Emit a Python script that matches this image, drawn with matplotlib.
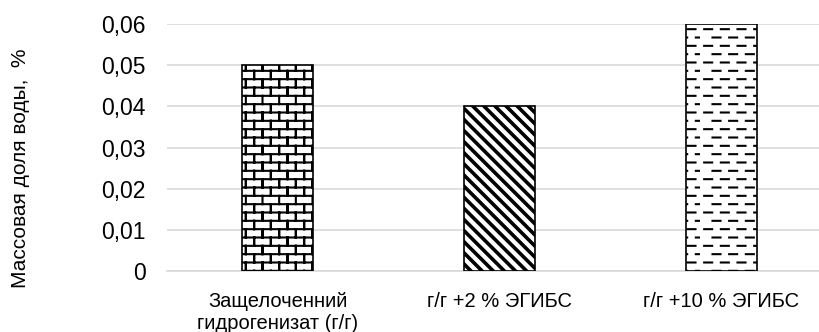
import numpy as np
import matplotlib
matplotlib.use("Agg")
import matplotlib.pyplot as plt
import matplotlib.hatch as mhatch
from matplotlib.path import Path

categories = ["Защелоченний\nгидрогенизат (г/г)", "г/г +2 % ЭГИБС", "г/г +10 % ЭГИБС"]
values = [0.05, 0.04, 0.06]
yticks = [0, 0.01, 0.02, 0.03, 0.04, 0.05, 0.06]
ytick_labels = ["0", "0,01", "0,02", "0,03", "0,04", "0,05", "0,06"]
ylabel = "Массовая доля воды,  %"
hatches = ["+", "\\", "-"]


# ---- custom hatch patterns (Excel-like brick, wide diagonal, dashed) ----
class BrickHatch(mhatch.HatchPatternBase):
    rows, cols = 12, 6

    def __init__(self, hatch, density):
        self.on = '+' in hatch
        self.num_vertices = (2 * self.rows + 2 * self.rows * self.cols * 2) if self.on else 0

    def set_vertices_and_codes(self, vertices, codes):
        r, c = self.rows, self.cols
        verts = []
        for k in range(r):
            y = (k + 0.5) / r
            verts += [(0.0, y), (1.0, y)]
        for k in range(r):
            y0 = (k + 0.5) / r
            y1 = (k + 1.5) / r
            shift = 0.5 / c if k % 2 else 0.0
            for j in range(c):
                x = (j + 0.25) / c + shift
                x = x % 1.0
                if y1 <= 1.0:
                    verts += [(x, y0), (x, y1), (x, y0), (x, y1)]
                else:
                    verts += [(x, y0), (x, 1.0), (x, 0.0), (x, y1 - 1.0)]
        vertices[:] = np.array(verts)
        codes[0::2] = Path.MOVETO
        codes[1::2] = Path.LINETO


class StripeHatch(mhatch.HatchPatternBase):
    n = 9

    def __init__(self, hatch, density):
        self.on = '\\' in hatch
        self.cs = np.arange(-1, 2 * self.n + 2) / self.n
        self.num_vertices = 2 * len(self.cs) if self.on else 0

    def set_vertices_and_codes(self, vertices, codes):
        cs = self.cs
        vertices[0::2, 0] = cs - 2.0
        vertices[0::2, 1] = 2.0
        vertices[1::2, 0] = cs + 1.0
        vertices[1::2, 1] = -1.0
        codes[0::2] = Path.MOVETO
        codes[1::2] = Path.LINETO


class DashHatch(mhatch.HatchPatternBase):
    rows, cols = 12, 6

    def __init__(self, hatch, density):
        self.on = '-' in hatch
        self.num_vertices = 2 * self.rows * self.cols if self.on else 0

    def set_vertices_and_codes(self, vertices, codes):
        r, c = self.rows, self.cols
        verts = []
        for k in range(r):
            y = (k + 0.5) / r
            shift = 0.5 / c if k % 2 else 0.0
            for j in range(c):
                x0 = (j + 0.25) / c + shift
                x1 = x0 + 0.48 / c
                if x0 >= 1.0:
                    x0 -= 1.0
                    x1 -= 1.0
                verts += [(x0, y), (min(x1, 1.0), y)]
        vertices[:] = np.array(verts)
        codes[0::2] = Path.MOVETO
        codes[1::2] = Path.LINETO


mhatch._hatch_types = [BrickHatch, StripeHatch, DashHatch]

hatch_lw = [1.5, 2.6, 1.5]

plt.rcParams['font.family'] = ['Liberation Sans', 'DejaVu Sans']

fig = plt.figure(figsize=(8.2, 3.32), dpi=100)
left = 167 / 820
bottom = 1 - 271 / 332
top = 1 - 24 / 332
ax = fig.add_axes([left, bottom, 1 - left, top - bottom])

x = np.arange(len(categories))
spacing_px = 221.75
ax.set_xlim(-0.5, (820 - 167) / spacing_px - 0.5)
ax.set_ylim(0, 0.06)

for i, (xi, v) in enumerate(zip(x, values)):
    plt.rcParams['hatch.linewidth'] = hatch_lw[i]
    bars = ax.bar(xi, v, width=0.32, color="white", edgecolor="black",
                  linewidth=1.2, hatch=hatches[i], zorder=3)
    for b in bars:
        if hasattr(b, "set_hatch_linewidth"):
            b.set_hatch_linewidth(hatch_lw[i])

ax.set_yticks(yticks)
ax.set_yticklabels(ytick_labels, fontsize=16.5)
ax.set_xticks(x)
ax.set_xticklabels(categories, fontsize=14.5, linespacing=1.2)
ax.tick_params(axis='both', length=0, colors='black')
ax.tick_params(axis='y', pad=15.5)
ax.tick_params(axis='x', pad=15)
ax.grid(axis='y', color='#d9d9d9', linewidth=1.2, zorder=0)
ax.set_axisbelow(True)
for s in ['top', 'right', 'left']:
    ax.spines[s].set_visible(False)
ax.spines['bottom'].set_color('#d9d9d9')
ax.spines['bottom'].set_linewidth(1.2)

fig.text(21 / 820, 1 - 168 / 332, ylabel, rotation=90, ha='center', va='center',
         fontsize=15)

fig.savefig("out.png", dpi=100)
